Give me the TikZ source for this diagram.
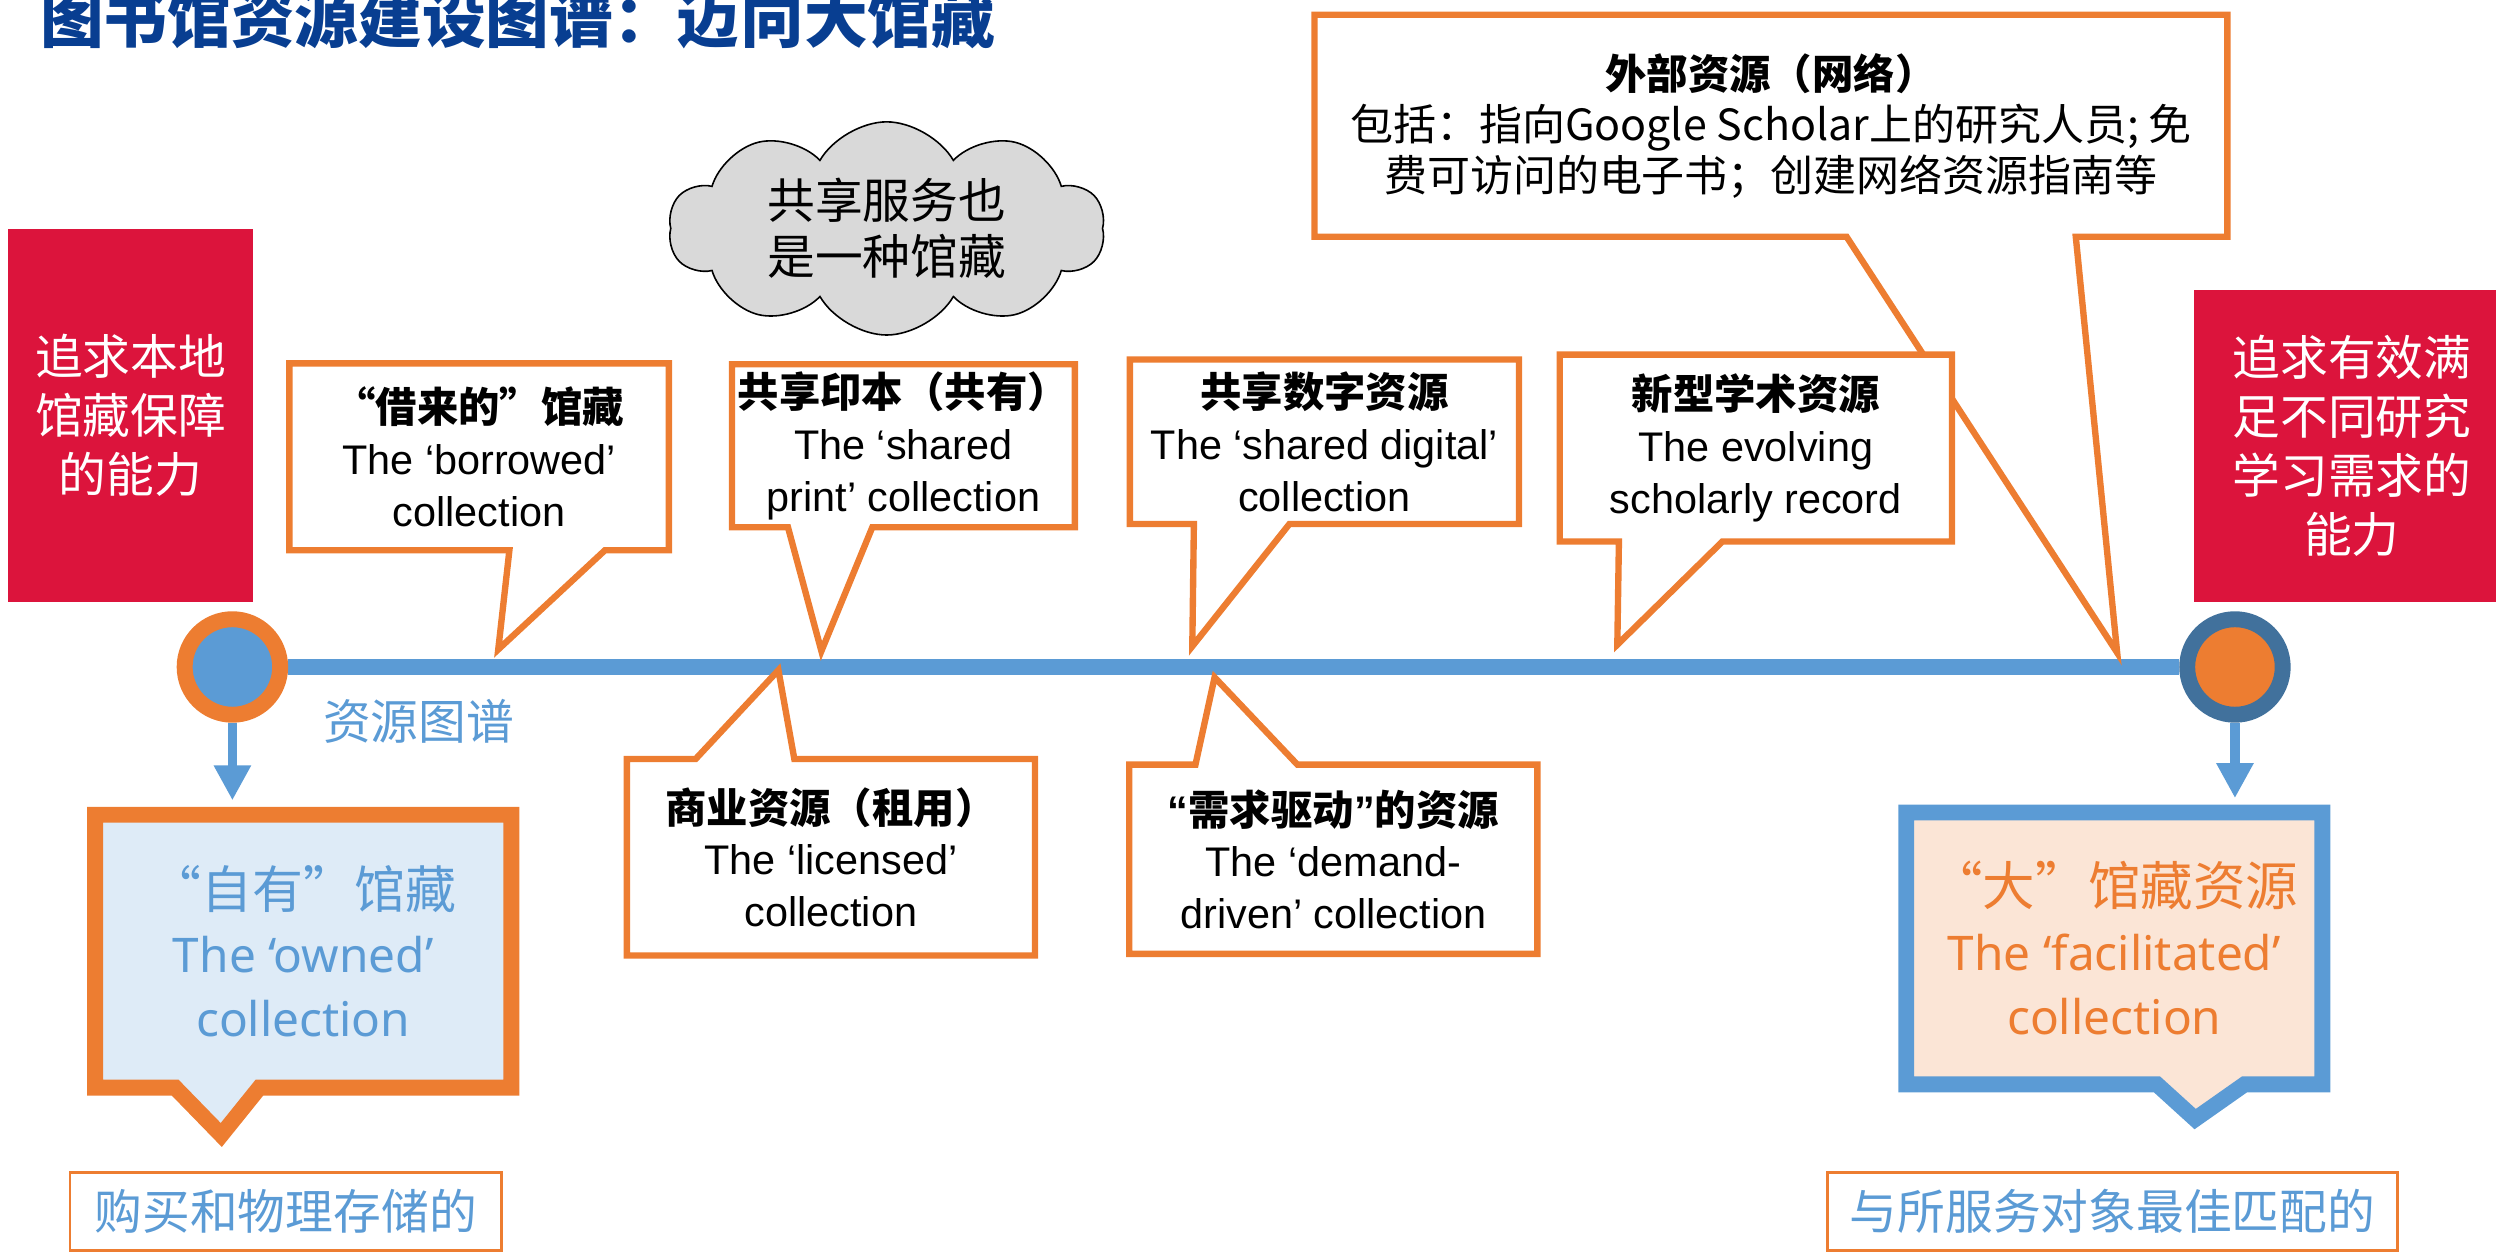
\documentclass[tikz,border=0pt]{standalone}
\usepackage{fontspec}
\setmainfont{Liberation Sans}
\newfontfamily\cjk{Noto Sans CJK SC}
\newfontfamily\latinsans{Noto Sans}
\usetikzlibrary{shapes.symbols,arrows.meta,backgrounds}
\definecolor{hdorange}{RGB}{237,125,49}
\definecolor{hdblue}{RGB}{91,155,213}
\definecolor{ringblue}{RGB}{65,113,156}
\definecolor{goalred}{RGB}{220,20,60}
\definecolor{titleblue}{RGB}{8,62,145}
\definecolor{paleblue}{RGB}{222,235,247}
\definecolor{palepeach}{RGB}{251,229,214}
\definecolor{cloudgray}{RGB}{217,217,217}
\tikzset{
  calltext/.style={inner sep=0pt, align=center, font=\fontsize{26}{32.5}\selectfont},
  callline/.style={draw=hdorange, line width=4pt, fill=white, line join=miter},
  goalbox/.style={fill=goalred, text=white, inner sep=0pt, align=center, font=\cjk\fontsize{30}{37}\selectfont},
  ringnode/.style={circle, minimum size=60pt, inner sep=0pt, line width=10pt},
  downarrow/.style={draw=hdblue, line width=6pt, -{Triangle[width=22pt,length=22pt]}},
  bigcall/.style={inner sep=0pt, align=center, font=\fontsize{30}{40.5}\selectfont},
  notebox/.style={draw=hdorange, line width=1.5pt, fill=white, inner sep=0pt, text=hdblue, font=\cjk\fontsize{30}{36}\selectfont}
}
\begin{document}
\begin{tikzpicture}[x=1pt, y=-1pt]
\useasboundingbox (0,0) rectangle (1568,787);
% title
\node[anchor=base west, inner sep=0pt, text=titleblue, font=\cjk\bfseries\fontsize{40}{44}\selectfont] (title) at (25,26.5) {图书馆资源建设图谱：迈向大馆藏};
% the two goals
\node[goalbox, minimum width=154pt, minimum height=234pt] (localgoal) at (82,261) {追求本地\\馆藏保障\\的能力};
\node[goalbox, minimum width=199pt, minimum height=196pt] (needsgoal) at (1477.5,280) {追求有效满\\足不同研究\\学习需求的\\能力};
% ends of the map
\node[ringnode, draw=hdorange, fill=hdblue] (ownedring) at (146,419) {};
\node[ringnode, draw=ringblue, fill=hdorange] (facring) at (1404,419) {};
\node[text=hdblue, inner sep=0pt, font=\cjk\fontsize{30}{36}\selectfont] (maplabel) at (263,453) {资源图谱};
% callouts above the line
\node[calltext, minimum width=238pt, minimum height=117pt] (borrowed) at (301,287) {{\cjk\bfseries “借来的”馆藏}\\The ‘borrowed’\\collection};
\node[calltext, minimum width=215pt, minimum height=102pt] (sharedprint) at (567.5,280) {{\cjk\bfseries 共享印本（共有）}\\The ‘shared\\print’ collection};
\node[calltext, minimum width=244pt, minimum height=103pt] (shareddigital) at (832,277.5) {{\cjk\bfseries 共享数字资源}\\The ‘shared digital’\\collection};
\node[calltext, minimum width=246pt, minimum height=117pt] (evolving) at (1103,281.5) {{\cjk\bfseries 新型学术资源}\\The evolving\\scholarly record};
\node[calltext, minimum width=573pt, minimum height=139pt, font=\cjk\fontsize{27}{32}\selectfont] (external) at (1112.5,79) {{\bfseries\fontsize{26}{32}\selectfont 外部资源（网络）}\\包括：指向Google Scholar上的研究人员; 免\\费可访问的电子书；创建网络资源指南等};
% callouts below the line
\node[calltext, minimum width=256pt, minimum height=123pt] (licensed) at (522,538.5) {{\cjk\bfseries 商业资源（租用）}\\The ‘licensed’\\collection};
\node[calltext, minimum width=256pt, minimum height=118.5pt] (demand) at (837.6,539.75) {{\bfseries “{\cjk 需求驱动}”{\cjk 的资源}}\\The ‘demand-\\driven’ collection};
\node[bigcall, text=hdblue, minimum width=261pt, minimum height=171pt] (owned) at (190.5,597.5) {{\cjk\fontsize{32}{40.5}\selectfont “自有”馆藏}\\{\latinsans The ‘owned’}\\{\latinsans collection}};
\node[bigcall, text=hdorange, minimum width=261pt, minimum height=170.4pt] (facilitated) at (1328.2,595.8) {{\cjk\fontsize{33}{40.5}\selectfont “大”馆藏资源}\\{\latinsans The ‘facilitated’}\\{\latinsans collection}};
% tips
\coordinate (borrowedtip) at (313,408);
\coordinate (sharedprinttip) at (516,409);
\coordinate (shareddigitaltip) at (749,406);
\coordinate (evolvingtip) at (1016,405);
\coordinate (externaltip) at (1330,410);
\coordinate (licensedtip) at (489,421);
\coordinate (demandtip) at (763,425.5);
\coordinate (ownedtip) at (139,713);
\coordinate (facilitatedtip) at (1379,703);
\begin{scope}[on background layer]
\draw[hdblue, line width=10pt] (ownedring) -- (facring);
\draw[callline] (borrowed.north west) -- (borrowed.north east) -- (borrowed.south east) -- (borrowed.south -| 380,0) -- (borrowedtip) -- (borrowed.south -| 320,0) -- (borrowed.south west) -- cycle;
\draw[callline] (sharedprint.north west) -- (sharedprint.north east) -- (sharedprint.south east) -- (sharedprint.south -| 548,0) -- (sharedprinttip) -- (sharedprint.south -| 495,0) -- (sharedprint.south west) -- cycle;
\draw[callline] (shareddigital.north west) -- (shareddigital.north east) -- (shareddigital.south east) -- (shareddigital.south -| 810,0) -- (shareddigitaltip) -- (shareddigital.south -| 750,0) -- (shareddigital.south west) -- cycle;
\draw[callline] (external.north west) -- (external.north east) -- (external.south east) -- (external.south -| 1304,0) -- (externaltip) -- (external.south -| 1160,0) -- (external.south west) -- cycle;
\draw[callline] (evolving.north west) -- (evolving.north east) -- (evolving.south east) -- (evolving.south -| 1082,0) -- (evolvingtip) -- (evolving.south -| 1017,0) -- (evolving.south west) -- cycle;
\draw[callline] (licensed.south west) -- (licensed.north west) -- (licensed.north -| 437,0) -- (licensedtip) -- (licensed.north -| 499,0) -- (licensed.north east) -- (licensed.south east) -- cycle;
\draw[callline] (demand.south west) -- (demand.north west) -- (demand.north -| 751,0) -- (demandtip) -- (demand.north -| 815,0) -- (demand.north east) -- (demand.south east) -- cycle;
\draw[draw=hdorange, fill=paleblue, line width=10pt, line join=miter] (owned.north west) -- (owned.north east) -- (owned.south east) -- (owned.south -| 163,0) -- (ownedtip) -- (owned.south -| 110,0) -- (owned.south west) -- cycle;
\draw[draw=hdblue, fill=palepeach, line width=10pt, line join=miter] (facilitated.north west) -- (facilitated.north east) -- (facilitated.south east) -- (facilitated.south -| 1410,0) -- (facilitatedtip) -- (facilitated.south -| 1355,0) -- (facilitated.south west) -- cycle;
\end{scope}
% arrows down to the two collections
\draw[downarrow] (ownedring.south) -- ([yshift=9pt]owned.north -| ownedring.south);
\draw[downarrow] (facring.south) -- ([yshift=9pt]facilitated.north -| facring.south);
% cloud
\node[cloud, cloud puffs=10, cloud puff arc=120, aspect=2.1, draw=black, line width=1pt, fill=cloudgray, minimum width=274pt, minimum height=129pt, inner sep=0pt, align=center, font=\cjk\fontsize{30}{35.5}\selectfont] (sharedservice) at (557,143.5) {共享服务也\\是一种馆藏};
% notes under the collections
\node[notebox, minimum width=271pt, minimum height=49pt] (ownednote) at (179.5,761) {购买和物理存储的};
\node[notebox, minimum width=358pt, minimum height=49pt] (facnote) at (1327,761) {与所服务对象最佳匹配的};
\end{tikzpicture}
\end{document}
